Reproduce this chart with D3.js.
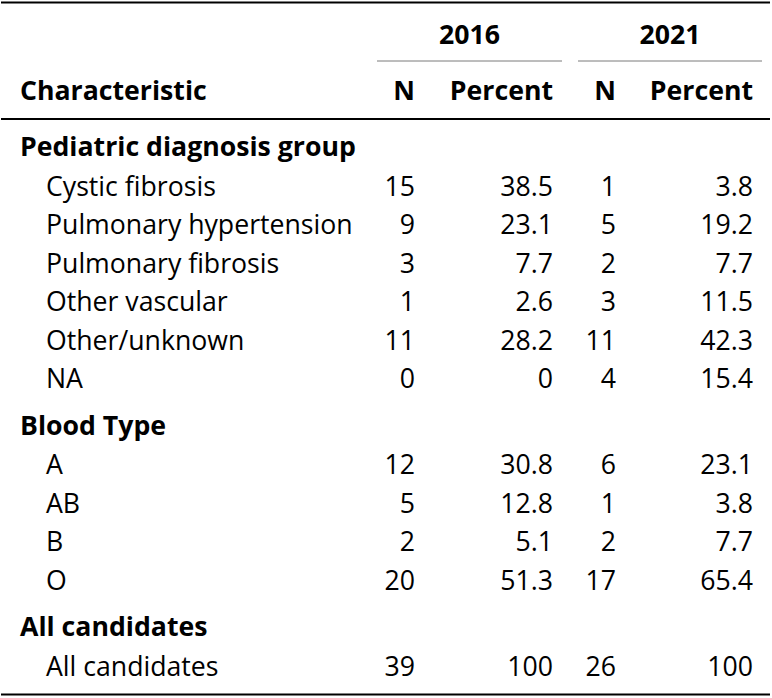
<!DOCTYPE html>
<html>
<head>
<meta charset="utf-8">
<script src="https://cdn.jsdelivr.net/npm/d3@7"></script>
<style>
  html, body { margin: 0; padding: 0; background: #fff; }
  svg { display: block; font-family: 'Open Sans', sans-serif; }
</style>
</head>
<body>
<svg id="chart" width="772" height="698"></svg>
<script>
// ---- data ----
const spanners = ["2016", "2021"];
const columnLabels = ["Characteristic", "N", "Percent", "N", "Percent"];
const groups = ["Pediatric diagnosis group", "Blood Type", "All candidates"];
const diagnosisLabels = ["Cystic fibrosis", "Pulmonary hypertension", "Pulmonary fibrosis", "Other vascular", "Other/unknown", "NA"];
const diagnosisN2016 = [15, 9, 3, 1, 11, 0];
const diagnosisPct2016 = ["38.5", "23.1", "7.7", "2.6", "28.2", "0"];
const diagnosisN2021 = [1, 5, 2, 3, 11, 4];
const diagnosisPct2021 = ["3.8", "19.2", "7.7", "11.5", "42.3", "15.4"];
const bloodLabels = ["A", "AB", "B", "O"];
const bloodN2016 = [12, 5, 2, 20];
const bloodPct2016 = ["30.8", "12.8", "5.1", "51.3"];
const bloodN2021 = [6, 1, 2, 17];
const bloodPct2021 = ["23.1", "3.8", "7.7", "65.4"];
const allLabels = ["All candidates"];
const allN2016 = [39];
const allPct2016 = ["100"];
const allN2021 = [26];
const allPct2021 = ["100"];

// ---- build rows ----
const sections = [
  { title: groups[0], labels: diagnosisLabels, cols: [diagnosisN2016, diagnosisPct2016, diagnosisN2021, diagnosisPct2021] },
  { title: groups[1], labels: bloodLabels, cols: [bloodN2016, bloodPct2016, bloodN2021, bloodPct2021] },
  { title: groups[2], labels: allLabels, cols: [allN2016, allPct2016, allN2021, allPct2021] }
];

const ROW_H = 38.5, GROUP_GAP = 8, GROUP_TO_ROW = 39.5;
const rows = [];
let y = 146.7;
sections.forEach((s, si) => {
  if (si > 0) y += GROUP_GAP + ROW_H;
  rows.push({ type: "group", label: s.title, y });
  y += GROUP_TO_ROW - ROW_H;
  s.labels.forEach((lab, i) => {
    y += ROW_H;
    rows.push({ type: "data", label: lab, values: s.cols.map(c => String(c[i])), y });
  });
});

const svg = d3.select("#chart");
const ink = "#000";
const fs = 26.67;

// column right edges via a point scale over value columns
const colX = d3.scaleOrdinal().domain([0, 1, 2, 3]).range([415, 553, 616, 753]);
const spanX = d3.scaleOrdinal().domain(spanners).range([[377, 562], [578, 762]]);

// top rule
svg.append("line").attr("x1", 1).attr("x2", 770).attr("y1", 2.5).attr("y2", 2.5)
  .attr("stroke", ink).attr("stroke-width", 2);

// spanners
spanners.forEach(s => {
  const [a, b] = spanX(s);
  svg.append("text").attr("x", (a + b) / 2).attr("y", 35).attr("dy", "0.35em")
    .attr("text-anchor", "middle").attr("font-weight", 700).attr("font-size", fs)
    .attr("fill", ink).text(s);
  svg.append("line").attr("x1", a).attr("x2", b).attr("y1", 61).attr("y2", 61)
    .attr("stroke", "#7a7a7a").attr("stroke-width", 1);
});

// column labels
svg.append("text").attr("x", 20).attr("y", 91).attr("dy", "0.35em")
  .attr("font-weight", 700).attr("font-size", fs).attr("fill", ink).text(columnLabels[0]);
columnLabels.slice(1).forEach((c, i) => {
  svg.append("text").attr("x", colX(i)).attr("y", 91).attr("dy", "0.35em")
    .attr("text-anchor", "end").attr("font-weight", 700).attr("font-size", fs)
    .attr("fill", ink).text(c);
});

// header rule
svg.append("line").attr("x1", 1).attr("x2", 770).attr("y1", 119).attr("y2", 119)
  .attr("stroke", ink).attr("stroke-width", 2);

// body
const g = svg.append("g");
const rowG = g.selectAll("g.row").data(rows).join("g").attr("class", "row");
rowG.append("text")
  .attr("x", d => d.type === "group" ? 20 : 46)
  .attr("y", d => d.y).attr("dy", "0.35em")
  .attr("font-size", fs)
  .attr("font-weight", d => d.type === "group" ? 700 : 400)
  .attr("fill", ink)
  .text(d => d.label);
rowG.filter(d => d.type === "data").selectAll("text.val")
  .data(d => d.values.map((v, i) => ({ v, i, y: d.y })))
  .join("text").attr("class", "val")
  .attr("x", d => colX(d.i)).attr("y", d => d.y).attr("dy", "0.35em")
  .attr("text-anchor", "end").attr("font-size", fs).attr("fill", ink)
  .text(d => d.v);

// bottom rule
svg.append("line").attr("x1", 1).attr("x2", 770).attr("y1", 694.5).attr("y2", 694.5)
  .attr("stroke", ink).attr("stroke-width", 2);
</script>
</body>
</html>
